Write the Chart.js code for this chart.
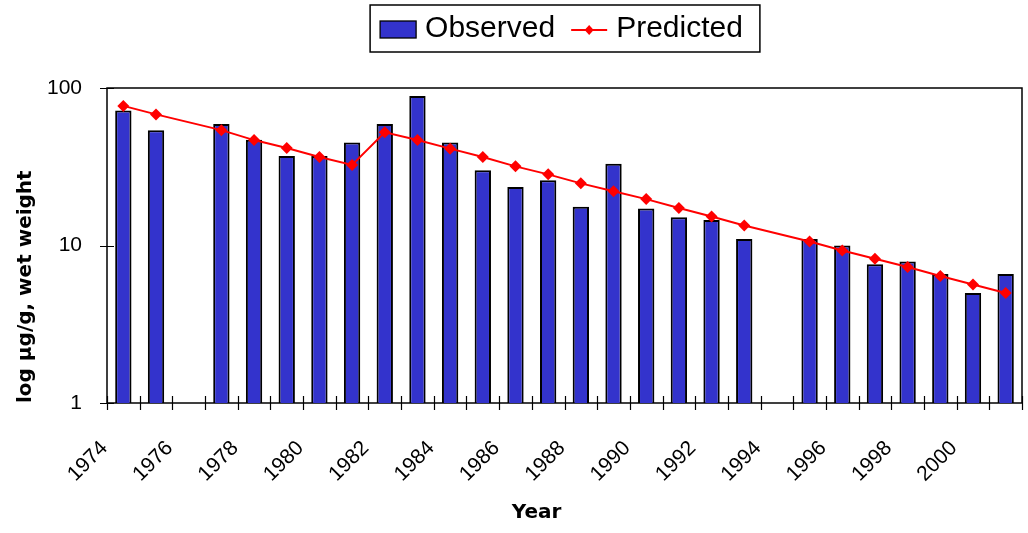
<!DOCTYPE html>
<html>
<head>
<meta charset="utf-8">
<script src="https://cdn.jsdelivr.net/npm/chart.js@4.4.0/dist/chart.umd.min.js"></script>
<style>
  html, body { margin: 0; padding: 0; background: #fff; }
</style>
</head>
<body>
<canvas id="chart" width="1028" height="533"></canvas>
<script>
// ==============================
// DATA
// ==============================
const years = [1974, 1975, 1976, 1977, 1978, 1979, 1980, 1981, 1982, 1983,
  1984, 1985, 1986, 1987, 1988, 1989, 1990, 1991, 1992, 1993,
  1994, 1995, 1996, 1997, 1998, 1999, 2000, 2001];

const observed = [72, 54, null, 59, 47, 37, 37, 45, 59, 89,
  45, 30, 23.5, 26, 17.6, 33, 17.2, 15.1, 14.5, 11,
  null, 11, 10, 7.6, 7.9, 6.6, 5, 6.6];

const predicted = [77, 68, null, 54, 46.7, 41.6, 36.5, 32.5, 52.3, 46.7,
  41.2, 36.5, 31.8, 28.3, 24.8, 22.1, 19.7, 17.3, 15.3, 13.4,
  null, 10.6, 9.3, 8.25, 7.3, 6.4, 5.65, 5.0];

const yTicks = [1, 10, 100];

const BAR_BLUE = "#3333cc";
const LINE_RED = "#ff0000";
const tickFont = { family: "'Liberation Sans', Arial, sans-serif", size: 21 };
const titleFont = { family: "'DejaVu Sans', Verdana, sans-serif", size: 20, weight: "bold" };


// ==============================
// PLOT FRAME + CROSSING TICK MARKS
// ==============================
const axisFrame = {
  id: "axisFrame",
  beforeDatasetsDraw(chart) {
    const { ctx, chartArea: a, scales: { x, y } } = chart;
    ctx.save();
    ctx.strokeStyle = "#000";
    ctx.lineWidth = 1.5;
    ctx.strokeRect(a.left, a.top, a.right - a.left, a.bottom - a.top);

    ctx.beginPath();
    yTicks.forEach(v => {
      const py = Math.round(y.getPixelForValue(v)) + 0.5;
      ctx.moveTo(a.left - 7, py);
      ctx.lineTo(a.left + 7, py);
    });
    for (let i = 0; i <= years.length; i++) {
      const px = Math.round(x.getPixelForValue(i - 0.5)) + 0.5;
      ctx.moveTo(px, a.bottom - 7);
      ctx.lineTo(px, a.bottom + 7);
    }
    ctx.lineWidth = 1.2;
    ctx.stroke();
    ctx.restore();
  }
};


// ==============================
// LEGEND SYMBOLS + BORDER
// ==============================
const legendFrame = {
  id: "legendFrame",
  afterDraw(chart) {
    const ctx = chart.ctx;
    const [obs, pre] = chart.legend.legendHitBoxes;
    const cy = obs.top + obs.height / 2;

    ctx.save();
    ctx.strokeStyle = "#000";
    ctx.lineWidth = 1.5;
    const left = obs.left - 16;
    const right = pre.left + pre.width + 17;
    ctx.strokeRect(left, cy - 24, right - left, 47);

    // observed swatch
    ctx.fillStyle = chart.data.datasets[1].backgroundColor;
    ctx.fillRect(obs.left - 6, cy - 8, 36, 17);
    ctx.lineWidth = 1.3;
    ctx.strokeRect(obs.left - 6, cy - 8, 36, 17);

    // predicted line with diamond
    const lx = pre.left - 6;
    ctx.strokeStyle = chart.data.datasets[0].borderColor;
    ctx.lineWidth = 2;
    ctx.beginPath();
    ctx.moveTo(lx, cy + 1);
    ctx.lineTo(lx + 36, cy + 1);
    ctx.stroke();
    ctx.fillStyle = chart.data.datasets[0].borderColor;
    ctx.beginPath();
    ctx.moveTo(lx + 18, cy - 4);
    ctx.lineTo(lx + 22.5, cy + 1);
    ctx.lineTo(lx + 18, cy + 6);
    ctx.lineTo(lx + 13.5, cy + 1);
    ctx.closePath();
    ctx.fill();
    ctx.restore();
  }
};


// ==============================
// CHART
// ==============================
new Chart(document.getElementById("chart"), {
  data: {
    labels: years,
    datasets: [
      {
        type: "line",
        label: "Predicted",
        data: predicted,
        borderColor: LINE_RED,
        backgroundColor: LINE_RED,
        borderWidth: 2,
        pointStyle: "rectRot",
        pointRadius: 6,
        pointBorderWidth: 0,
        spanGaps: true,
        tension: 0,
        order: 0
      },
      {
        type: "bar",
        label: "Observed",
        data: observed,
        backgroundColor: BAR_BLUE,
        borderColor: "#000",
        borderWidth: 2,
        barPercentage: 0.5,
        categoryPercentage: 1,
        order: 1
      }
    ]
  },
  options: {
    responsive: false,
    animation: false,
    devicePixelRatio: 1,
    layout: { padding: { top: -8, right: 6, bottom: 0, left: 0 } },
    plugins: {
      tooltip: { enabled: false },
      legend: {
        position: "top",
        fullSize: false,
        align: "center",
        labels: {
          boxWidth: 24,
          boxHeight: 17,
          padding: 22,
          color: "#000",
          font: { family: "'Liberation Sans', Arial, sans-serif", size: 30 },
          generateLabels: () => [
            { text: "Observed", fillStyle: "rgba(0,0,0,0)", strokeStyle: "rgba(0,0,0,0)", lineWidth: 0, datasetIndex: 1 },
            { text: "Predicted", fillStyle: "rgba(0,0,0,0)", strokeStyle: "rgba(0,0,0,0)", lineWidth: 0, datasetIndex: 0 }
          ]
        }
      },
      // empty spacer between legend and plot
      subtitle: {
        display: true,
        text: "",
        weight: 500,
        padding: 0,
        font: { size: 34, lineHeight: 1 }
      }
    },
    scales: {
      x: {
        type: "category",
        offset: true,
        grid: { display: false, drawTicks: false },
        border: { display: false },
        ticks: {
          autoSkip: false,
          minRotation: 45,
          maxRotation: 45,
          padding: 33,
          labelOffset: -19,
          color: "#000",
          font: tickFont,
          callback: (v, i) => (i % 2 === 0 ? String(years[i]) : "")
        },
        title: {
          display: true,
          text: "Year        ",
          color: "#000",
          font: titleFont,
          padding: { top: 0, bottom: 8 }
        },
        afterFit(s) {
          s.height = 130;
          s.paddingLeft = 0;
          s.paddingRight = 0;
        }
      },
      y: {
        type: "logarithmic",
        min: 1,
        max: 100,
        afterBuildTicks(s) {
          s.ticks = yTicks.map(v => ({ value: v }));
        },
        grid: { display: false, drawTicks: false },
        border: { display: false },
        ticks: {
          padding: 25,
          color: "#000",
          font: tickFont,
          callback: v => String(v)
        },
        title: {
          display: true,
          text: "log µg/g, wet weight",
          align: "start",
          color: "#000",
          font: titleFont,
          padding: { top: 14, bottom: 0 }
        },
        afterFit(s) {
          s.width = 107;
        }
      }
    }
  },
  plugins: [axisFrame, legendFrame]
});
</script>
</body>
</html>
